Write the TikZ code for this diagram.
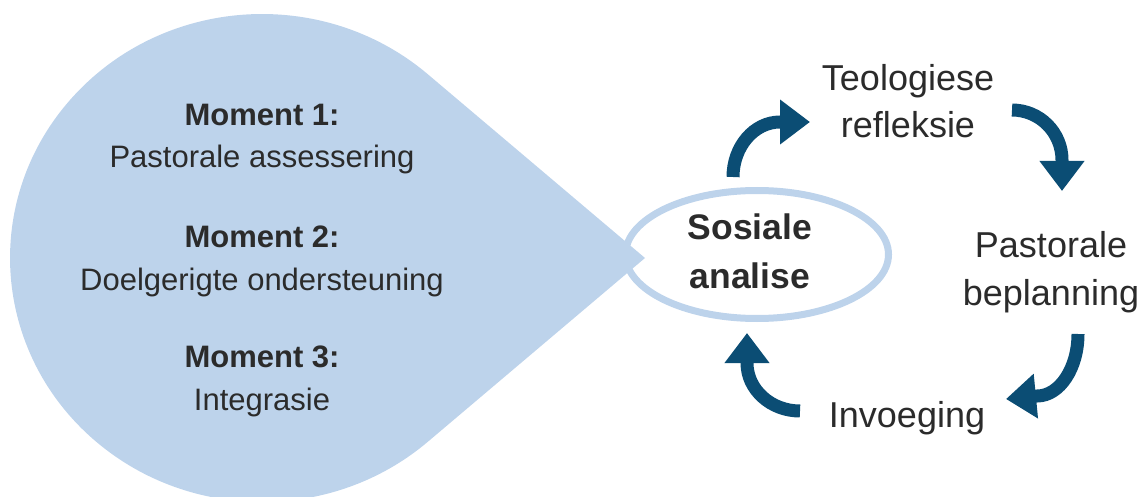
\documentclass[tikz,border=0pt]{standalone}
\usepackage{fontspec}
\setmainfont{Liberation Sans}
\usetikzlibrary{arrows.meta,calc}
\definecolor{bulb}{HTML}{BDD3EB}
\definecolor{cycblue}{HTML}{0B4D74}
\definecolor{txt}{HTML}{2B2B2B}
\begin{document}
\begin{tikzpicture}[x=1pt,y=-1pt,
  lefttxt/.style={font=\fontsize{31}{42.5}\selectfont, text=txt, align=center, inner sep=0pt, anchor=base},
  righttxt/.style={font=\fontsize{36}{47.5}\selectfont, text=txt, align=center, inner sep=0pt, anchor=base},
  boldtxt/.style={font=\fontsize{35.5}{49}\selectfont\bfseries, text=txt, align=center, inner sep=0pt, anchor=base},
  ring/.style={draw=bulb, line width=7pt},
  cycarrow/.style={draw=cycblue, line width=13pt, -{Triangle[length=30pt,width=43pt]}},
]
\useasboundingbox (0,0) rectangle (1143,497);
\clip (0,0) rectangle (1143,497);
% centre ellipse
\node[boldtxt] (sa) at (750,288) {Sosiale\\analise};
\draw[ring] (757,254.5) ellipse [x radius=131.5, y radius=64];
% teardrop
\coordinate (bc) at (262,258);
\coordinate (tip) at (645,258);
\fill[bulb] (tip) -- ($(bc)+(252*0.6580,-244*0.7530)$) arc[start angle=-48.86, end angle=-311.14, x radius=252, y radius=244] -- cycle;
% left texts
\node[lefttxt] (m1) at (262,168) {\textbf{Moment 1:}\\Pastorale assessering};
\node[lefttxt] (m2) at (262,290) {\textbf{Moment 2:}\\Doelgerigte ondersteuning};
\node[lefttxt] (m3) at (262,410) {\textbf{Moment 3:}\\Integrasie};
% right texts
\node[righttxt] (tr) at (908,138) {Teologiese\\refleksie};
\node[righttxt] (pb) at (1051,305) {Pastorale\\beplanning};
\node[righttxt] (inv) at (907,427) {Invoeging};
% cycle arrows
\coordinate (a1s) at (733,177);  \coordinate (a1e) at (810,122);
\coordinate (a2s) at (1012,110); \coordinate (a2e) at (1062,191);
\coordinate (a3s) at (1078,334); \coordinate (a3e) at (1006,399);
\coordinate (a4s) at (800,411);  \coordinate (a4e) at (747,333);
\draw[cycarrow] (a1s) arc[start angle=180, end angle=270, x radius=47, y radius=55] -- (a1e);
\draw[cycarrow] (a2s) arc[start angle=270, end angle=360, x radius=50, y radius=50] -- (a2e);
\draw[cycarrow] (a3s) arc[start angle=0, end angle=90, x radius=41, y radius=62] -- (a3e);
\draw[cycarrow] (a4s) arc[start angle=90, end angle=180, x radius=53, y radius=48] -- (a4e);
\end{tikzpicture}
\end{document}
